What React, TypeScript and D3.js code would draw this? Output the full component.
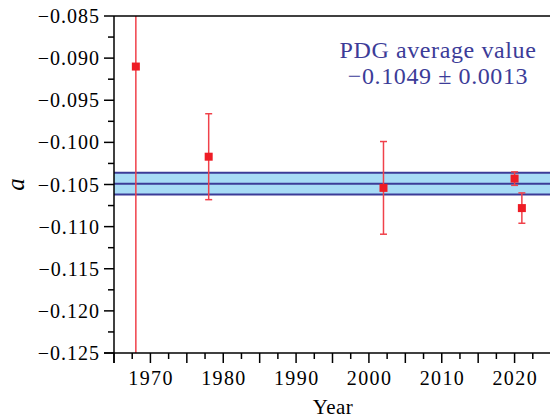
import React from "react";
import * as d3 from "d3";

// measurements of a (year, value, error)
const years = [1968, 1978, 2002, 2020, 2021];
const values = [-0.091, -0.1017, -0.1054, -0.1043, -0.1078];
const errors = [0.04, 0.0051, 0.0055, 0.0008, 0.0018];

const pdgValue = -0.1049;
const pdgError = 0.0013;

const xTickLabels = [1970, 1980, 1990, 2000, 2010, 2020];
const yTickLabels = [-0.085, -0.09, -0.095, -0.1, -0.105, -0.11, -0.115, -0.12, -0.125];

function App() {
  const width = 550;
  const height = 419;
  const margin = { top: 16, right: 0, bottom: 66, left: 114 };

  const x = d3.scaleLinear().domain([1965, 2025]).range([margin.left, 551]);
  const y = d3
    .scaleLinear()
    .domain([-0.125, -0.085])
    .range([height - margin.bottom, margin.top]);

  const font = "'Liberation Serif', 'Times New Roman', serif";
  const blue = "#3c3c98";
  const red = "#ee1c25";
  const barRed = "#f0414a";

  const xMinor = d3.range(1965, 2025.01, 2.5);
  const yMinor = d3.range(-0.125, -0.08499, 0.0025);
  const fmt = (v: number) => "\u2212" + Math.abs(v).toFixed(3);

  const x0 = margin.left;
  const x1 = width;
  const yBottom = y(-0.125);
  const yTop = y(-0.085);

  return (
    <div style={{ position: "absolute", left: 0, top: 0 }}>
      <svg width={width} height={height} style={{ display: "block" }}>
        <defs>
          <clipPath id="plotClip">
            <rect x={x0} y={yTop} width={x1 - x0} height={yBottom - yTop} />
          </clipPath>
        </defs>
        <rect width={width} height={height} fill="white" />

        {/* PDG band */}
        <rect
          x={x0}
          y={y(pdgValue + pdgError)}
          width={x1 - x0}
          height={y(pdgValue - pdgError) - y(pdgValue + pdgError)}
          fill="#a8dcf6"
        />
        {[pdgValue + pdgError, pdgValue, pdgValue - pdgError].map((v, i) => (
          <line key={i} x1={x0} x2={x1} y1={y(v)} y2={y(v)} stroke={blue} strokeWidth={2} />
        ))}

        {/* error bars */}
        <g clipPath="url(#plotClip)">
          {years.map((yr, i) => {
            const cx = x(yr);
            const top = y(values[i] + errors[i]);
            const bot = y(values[i] - errors[i]);
            return (
              <g key={yr} stroke={barRed} strokeWidth={1.5}>
                <line x1={cx} x2={cx} y1={top} y2={bot} />
                <line x1={cx - 3.5} x2={cx + 3.5} y1={top} y2={top} />
                <line x1={cx - 3.5} x2={cx + 3.5} y1={bot} y2={bot} />
              </g>
            );
          })}
          {years.map((yr, i) => (
            <rect
              key={"m" + yr}
              x={x(yr) - 4}
              y={y(values[i]) - 4}
              width={8}
              height={8}
              fill={red}
            />
          ))}
        </g>

        {/* axes frame */}
        <line x1={x0} x2={x1} y1={yTop} y2={yTop} stroke="black" strokeWidth={1.5} />
        <line x1={x0} x2={x0} y1={yTop} y2={yBottom + 10} stroke="black" strokeWidth={1.5} />
        <line x1={x0 - 10} x2={x1} y1={yBottom} y2={yBottom} stroke="black" strokeWidth={1.5} />

        {/* x ticks */}
        {xMinor.map((t) => {
          const major = Math.abs(t % 5) < 1e-6;
          return (
            <line
              key={"xt" + t}
              x1={x(t)}
              x2={x(t)}
              y1={yBottom}
              y2={yBottom + (major ? 10 : 6)}
              stroke="black"
              strokeWidth={1.5}
            />
          );
        })}
        {xTickLabels.map((t) => (
          <text
            key={"xl" + t}
            x={x(t) + 0.7}
            y={yBottom + 32}
            textAnchor="middle"
            fontFamily={font}
            fontSize={20}
            letterSpacing={1.4}
          >
            {t}
          </text>
        ))}

        {/* y ticks */}
        {yMinor.map((t, i) => (
          <line
            key={"yt" + i}
            x1={x0}
            x2={x0 - (i % 2 === 0 ? 10 : 6)}
            y1={y(t)}
            y2={y(t)}
            stroke="black"
            strokeWidth={1.5}
          />
        ))}
        {yTickLabels.map((t) => (
          <text
            key={"yl" + t}
            x={x0 - 14}
            y={y(t) + 7}
            textAnchor="end"
            fontFamily={font}
            fontSize={20}
            letterSpacing={1}
          >
            {fmt(t)}
          </text>
        ))}

        {/* axis titles */}
        <text
          x={(x0 + x1) / 2 + 1}
          y={height - 5}
          textAnchor="middle"
          fontFamily={font}
          fontSize={21}
          letterSpacing={0.5}
        >
          Year
        </text>
        <text
          transform={`translate(${24}, ${y(-0.105)}) rotate(-90)`}
          textAnchor="middle"
          fontFamily={font}
          fontStyle="italic"
          fontSize={25}
        >
          a
        </text>

        {/* annotation */}
        <text x={438} y={58} textAnchor="middle" fontFamily={font} fontSize={24} letterSpacing={0.6} fill={blue}>
          PDG average value
        </text>
        <text x={438} y={84} textAnchor="middle" fontFamily={font} fontSize={24} letterSpacing={0.6} fill={blue}>
          {"\u22120.1049 \u00b1 0.0013"}
        </text>
      </svg>
    </div>
  );
}

export default App;
